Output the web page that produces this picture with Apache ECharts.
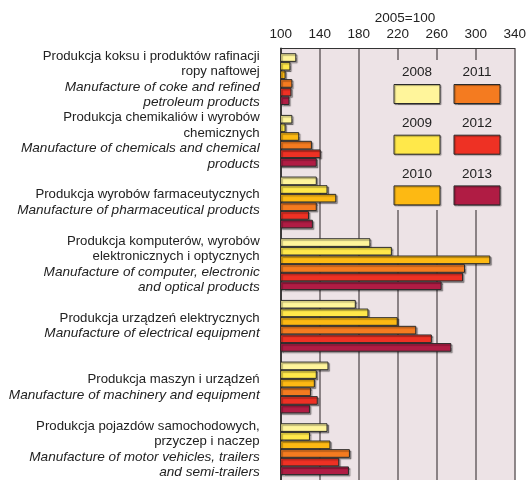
<!DOCTYPE html>
<html>
<head>
<meta charset="utf-8">
<script src="https://cdn.jsdelivr.net/npm/echarts@6/dist/echarts.min.js"></script>
<style>
html,body{margin:0;padding:0;background:#fff;}
#chart{width:529px;height:480px;}
</style>
</head>
<body>
<div id="chart"></div>
<script>
const plLabels = [
  'Produkcja koksu i produktów rafinacji\nropy naftowej',
  'Produkcja chemikaliów i wyrobów\nchemicznych',
  'Produkcja wyrobów farmaceutycznych',
  'Produkcja komputerów, wyrobów\nelektronicznych i optycznych',
  'Produkcja urządzeń elektrycznych',
  'Produkcja maszyn i urządzeń',
  'Produkcja pojazdów samochodowych,\nprzyczep i naczep'
];
const enLabels = [
  'Manufacture of coke and refined\npetroleum products',
  'Manufacture of chemicals and chemical\nproducts',
  'Manufacture of pharmaceutical products',
  'Manufacture of computer, electronic\nand optical products',
  'Manufacture of electrical equipment',
  'Manufacture of machinery and equipment',
  'Manufacture of motor vehicles, trailers\nand semi-trailers'
];
const years = ['2008', '2009', '2010', '2011', '2012', '2013'];
const v2008 = [116, 112, 137, 192, 177, 149, 148];
const v2009 = [110, 105, 148, 214, 190, 137, 130];
const v2010 = [105, 119, 157, 315, 220, 135, 151];
const v2011 = [112, 132, 137, 289, 239, 131, 171];
const v2012 = [111, 141, 129, 287, 255, 138, 160];
const v2013 = [109, 137, 133, 265, 275, 130, 170];
const colors = ['#fff59b', '#ffe84a', '#fdb913', '#f47b20', '#ee3124', '#b01c44'];
const axisMin = 100, axisMax = 340, axisStep = 40;

const values = [v2008, v2009, v2010, v2011, v2012, v2013];
const FONT = '"Liberation Sans", Arial, sans-serif';
const plotBg = '#ede3e6';

const chart = echarts.init(document.getElementById('chart'), null, {renderer: 'canvas'});

const legendGraphics = [{
  type: 'rect',
  shape: {x: 383, y: 60, width: 131, height: 150},
  style: {fill: plotBg},
  z: 10
}];
years.forEach((y, i) => {
  const col = Math.floor(i / 3), row = i % 3;
  const bx = 394 + col * 60, by = 84.5 + row * 50.7;
  legendGraphics.push({
    type: 'rect',
    shape: {x: bx, y: by, width: 46, height: 19},
    style: {fill: colors[i], stroke: '#2a2a2a', lineWidth: 1,
      shadowColor: 'rgba(0,0,0,0.35)', shadowOffsetX: 1, shadowOffsetY: 1, shadowBlur: 1},
    z: 11
  });
  legendGraphics.push({
    type: 'text',
    x: bx + 23, y: by - 12,
    style: {text: y, fill: '#222', font: '13.5px ' + FONT, align: 'center', verticalAlign: 'middle'},
    z: 11
  });
});

chart.setOption({
  animation: false,
  backgroundColor: '#fff',
  title: {
    text: '2005=100',
    left: 400, top: 6, textAlign: 'center',
    textStyle: {fontFamily: FONT, fontSize: 13.5, fontWeight: 'normal', color: '#222'}
  },
  grid: {left: 280.7, right: 13, top: 48.3, height: 433.3, backgroundColor: plotBg, show: true, borderWidth: 0},
  xAxis: {
    type: 'value', position: 'top', min: axisMin, max: axisMax, interval: axisStep,
    axisLine: {show: true, lineStyle: {color: '#333', width: 1.2}},
    axisTick: {show: false},
    axisLabel: {fontFamily: FONT, fontSize: 13.5, color: '#222', margin: 7},
    splitLine: {show: true, lineStyle: {color: '#6a6265', width: 1.5}}
  },
  yAxis: {
    type: 'category', inverse: true, data: plLabels,
    axisLine: {show: true, lineStyle: {color: '#222', width: 1.5}},
    axisTick: {show: false},
    axisLabel: {
      margin: 21, align: 'right',
      formatter: (val, idx) => '{p|' + val + '}\n{e|' + enLabels[idx] + '}',
      rich: {
        p: {fontFamily: FONT, fontSize: 13.2, color: '#222', lineHeight: 15.3, align: 'right'},
        e: {fontFamily: FONT, fontSize: 13.6, fontStyle: 'italic', color: '#222', lineHeight: 15.3, align: 'right'}
      }
    }
  },
  series: years.map((y, i) => ({
    name: y, type: 'bar', data: values[i],
    barGap: '0%', barCategoryGap: '16%',
    itemStyle: {color: colors[i], borderColor: '#2a2a2a', borderWidth: 1,
      shadowColor: 'rgba(0,0,0,0.35)', shadowOffsetX: 1.5, shadowOffsetY: 1.5, shadowBlur: 1}
  })),
  graphic: legendGraphics
});
</script>
</body>
</html>
